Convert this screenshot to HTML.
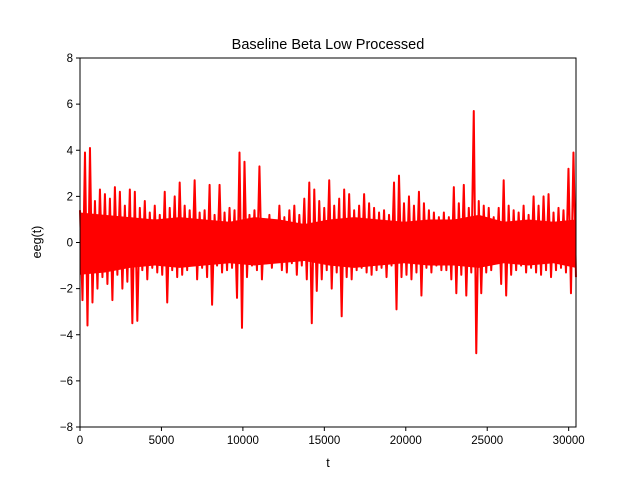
<!DOCTYPE html>
<html><head><meta charset="utf-8"><style>
body{margin:0;background:#fff}
svg{display:block;font-family:"Liberation Sans","DejaVu Sans",sans-serif}
</style></head><body>
<svg id="chart" width="640" height="480">
<rect width="640" height="480" fill="#fff"/>
<text x="328" y="49" text-anchor="middle" font-size="14.5">Baseline Beta Low Processed</text>
<g id="plot"></g>
<rect x="80" y="58" width="496" height="369" fill="none" stroke="#000" stroke-width="1"/>
<g id="ticks"></g>
<text x="328" y="467" text-anchor="middle" font-size="12.5">t</text>
<text transform="translate(41,242) rotate(-90)" text-anchor="middle" font-size="12.5">eeg(t)</text>
</svg>
<script>
const sampleStep = 153;
const eegValues = [
1.4,-2.5,3.9,-3.6,4.1,-2.6,1.8,-2.0,2.3,-1.5,2.1,-1.8,1.9,-2.5,2.4,-1.4,2.2,-2.0,1.6,-1.7,
2.3,-3.5,2.2,-3.4,1.5,-1.2,1.8,-1.6,1.3,-1.1,1.6,-1.3,1.2,-1.4,2.2,-2.6,1.5,-1.2,2.0,-1.5,
2.6,-1.4,1.6,-1.2,1.4,-1.0,2.7,-1.6,1.3,-1.1,1.4,-1.5,2.5,-2.7,1.2,-1.0,2.5,-1.3,1.3,-1.2,
1.5,-1.1,1.4,-2.4,3.9,-3.7,3.5,-1.5,1.2,-1.0,1.4,-1.2,3.3,-1.6,1.0,-0.9,1.2,-1.1,0.9,-0.8,
1.6,-1.2,1.1,-1.3,1.4,-0.9,1.6,-1.4,1.2,-1.0,1.9,-1.6,2.6,-3.5,2.3,-2.1,1.8,-1.6,1.5,-1.2,
2.7,-2.0,1.6,-1.3,1.9,-3.2,2.3,-1.5,2.1,-1.6,1.4,-1.2,1.6,-1.1,2.1,-1.3,1.7,-1.4,1.5,-1.2,
1.3,-1.1,1.4,-1.5,1.2,-1.0,2.6,-2.9,2.9,-1.5,1.7,-1.4,2.0,-1.6,1.6,-1.3,2.2,-2.3,1.7,-1.1,
1.4,-1.3,1.3,-1.0,1.1,-1.2,1.3,-1.2,1.1,-1.6,2.4,-2.2,1.7,-1.4,2.5,-2.3,1.5,-1.3,5.7,-4.8,
1.8,-2.2,1.6,-1.3,1.5,-1.2,1.1,-0.9,1.5,-1.8,2.7,-2.3,1.6,-1.4,1.4,-1.2,1.3,-1.0,1.6,-1.3,
1.2,-1.1,2.0,-1.3,1.6,-1.4,2.0,-1.2,2.1,-1.5,1.3,-1.2,1.5,-1.1,1.4,-1.3,3.2,-2.2,3.9,-1.5
];
const bandStep = 1530;
const bandTop = [1.3,1.2,1.1,1.0,1.1,1.0,0.9,1.1,1.0,0.8,1.0,1.1,1.0,0.9,1.0,1.0,1.2,0.9,1.0,0.9,1.0];
const bandBottom = [-1.4,-1.3,-1.1,-1.0,-1.1,-1.0,-0.9,-1.0,-0.9,-0.8,-1.0,-1.1,-1.0,-0.9,-1.0,-1.0,-1.1,-0.9,-1.0,-0.9,-1.1];
const xTicks = [0,5000,10000,15000,20000,25000,30000];
const yTicks = [-8,-6,-4,-2,0,2,4,6,8];
const X0=80,X1=576,Y0=58,Y1=427,XMAX=30450,YMIN=-8,YMAX=8;
const xs = v => X0 + Math.min(v,XMAX)/XMAX*(X1-X0);
const ys = v => Y1 - (v-YMIN)/(YMAX-YMIN)*(Y1-Y0);
const NS="http://www.w3.org/2000/svg";
const plot=document.getElementById('plot');
let bd='';
bandTop.forEach((v,i)=>{bd+=(i?'L':'M')+xs(i*bandStep).toFixed(2)+' '+ys(v).toFixed(2);});
for(let i=bandBottom.length-1;i>=0;i--){bd+='L'+xs(i*bandStep).toFixed(2)+' '+ys(bandBottom[i]).toFixed(2);}
bd+='Z';
const band=document.createElementNS(NS,'path');
band.setAttribute('d',bd);band.setAttribute('fill','#ff0000');


plot.appendChild(band);
let d='';
eegValues.forEach((v,i)=>{d+=(i?'L':'M')+xs(i*sampleStep).toFixed(2)+' '+ys(v).toFixed(2);});
const p=document.createElementNS(NS,'path');
p.setAttribute('d',d);p.setAttribute('fill','none');p.setAttribute('stroke','#ff0000');
p.setAttribute('stroke-width','2');p.setAttribute('stroke-linejoin','round');


plot.appendChild(p);
const tg=document.getElementById('ticks');
xTicks.forEach(t=>{
  const l=document.createElementNS(NS,'line');
  l.setAttribute('x1',xs(t));l.setAttribute('x2',xs(t));l.setAttribute('y1',Y1);l.setAttribute('y2',Y1+4);l.setAttribute('stroke','#000');
  
  
  tg.appendChild(l);
  const tx=document.createElementNS(NS,'text');
  tx.setAttribute('x',xs(t));tx.setAttribute('y',Y1+17);tx.setAttribute('text-anchor','middle');tx.setAttribute('font-size','11.5');
  tx.textContent=t;
  
  
  tg.appendChild(tx);
});
yTicks.forEach(t=>{
  const l=document.createElementNS(NS,'line');
  l.setAttribute('x1',X0-4);l.setAttribute('x2',X0);l.setAttribute('y1',ys(t));l.setAttribute('y2',ys(t));l.setAttribute('stroke','#000');
  
  
  tg.appendChild(l);
  const tx=document.createElementNS(NS,'text');
  tx.setAttribute('x',X0-7);tx.setAttribute('y',ys(t)+4);tx.setAttribute('text-anchor','end');tx.setAttribute('font-size','11.5');
  tx.textContent=(t<0?'\u2212'+(-t):t);
  
  
  tg.appendChild(tx);
});
</script>
</body></html>
